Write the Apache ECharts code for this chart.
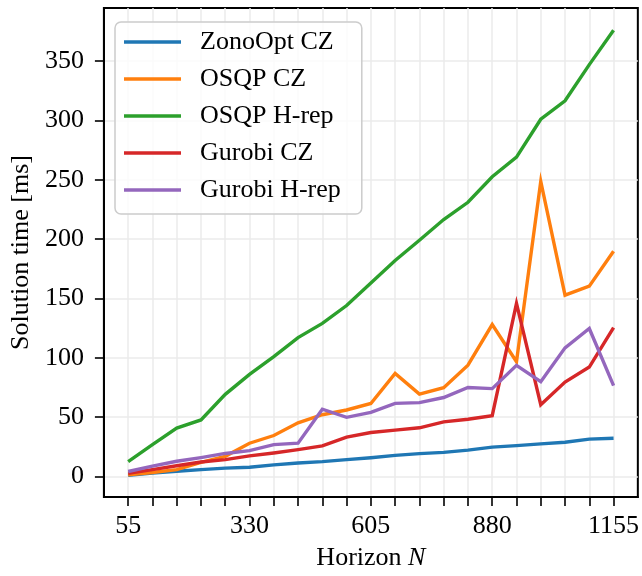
<!DOCTYPE html>
<html>
<head>
<meta charset="utf-8">
<script src="https://cdn.jsdelivr.net/npm/echarts@6/dist/echarts.min.js"></script>
<style>
  html, body { margin: 0; padding: 0; background: #fff; }
  #chart { width: 642px; height: 576px; }
</style>
</head>
<body>
<div id="chart"></div>
<script>
// Horizon lengths N
const horizons = [55, 110, 165, 220, 275, 330, 385, 440, 495, 550, 605, 660, 715, 770, 825, 880, 935, 990, 1045, 1100, 1155];

// Solution times [ms] per solver / representation
const zonoOptCZ  = [1.0, 2.8, 4.4, 5.8, 7.0, 7.8, 9.8, 11.4, 12.5, 14.2, 15.8, 17.8, 19.2, 20.3, 22.2, 24.7, 26.0, 27.5, 28.8, 31.5, 32.2];
const osqpCZ     = [1.4, 3.3, 5.8, 11.8, 17.0, 28.0, 34.5, 45.2, 52.0, 56.0, 61.5, 86.8, 69.4, 74.8, 93.8, 128.0, 96.7, 248.6, 152.8, 160.3, 189.7];
const osqpHrep   = [12.5, 26.8, 40.8, 47.6, 69.2, 86.0, 101.0, 117.0, 129.0, 144.0, 163.0, 182.0, 199.0, 216.5, 231.0, 252.5, 269.0, 301.0, 316.5, 347.0, 376.0];
const gurobiCZ   = [2.7, 5.8, 9.0, 12.2, 14.2, 17.3, 19.8, 22.6, 25.7, 33.1, 37.0, 39.0, 41.0, 46.0, 48.2, 51.2, 145.8, 60.5, 79.6, 92.2, 125.4];
const gurobiHrep = [4.2, 8.7, 12.8, 15.9, 19.4, 21.8, 26.8, 28.1, 56.7, 49.8, 54.0, 61.6, 62.2, 66.5, 75.0, 74.0, 93.6, 79.8, 108.4, 124.7, 76.5];

// Tick positions and labels
const xTickValues  = horizons;
const xTickLabels  = [55, 330, 605, 880, 1155];
const yTickLabels  = [0, 50, 100, 150, 200, 250, 300, 350];

const seriesNames  = ['ZonoOpt CZ', 'OSQP CZ', 'OSQP H-rep', 'Gurobi CZ', 'Gurobi H-rep'];
const seriesValues = [zonoOptCZ, osqpCZ, osqpHrep, gurobiCZ, gurobiHrep];
const palette      = ['#1f77b4', '#ff7f0e', '#2ca02c', '#d62728', '#9467bd'];

const FONT = 'Liberation Serif';
const FS = 26;

const chart = echarts.init(document.getElementById('chart'), null, { renderer: 'canvas' });

const series = seriesNames.map((name, k) => ({
  name: name,
  type: 'line',
  data: horizons.map((n, i) => [n, seriesValues[k][i]]),
  showSymbol: false,
  symbol: 'none',
  lineStyle: { width: 3.4, color: palette[k], cap: 'butt', join: 'miter' },
  itemStyle: { color: palette[k] },
  z: 3 + k
}));

chart.setOption({
  animation: false,
  backgroundColor: '#fff',
  textStyle: { fontFamily: FONT, color: '#000' },
  grid: {
    left: 102, right: 2, top: 8, bottom: 73,
    show: true, borderColor: '#000', borderWidth: 2, backgroundColor: 'transparent',
    containLabel: false
  },
  legend: {
    left: 115, top: 22,
    orient: 'vertical',
    icon: 'rect',
    itemWidth: 57,
    itemHeight: 3.4,
    itemGap: 7,
    padding: [5, 21, 9, 9],
    backgroundColor: 'rgba(255,255,255,0.8)',
    borderColor: '#cccccc',
    borderWidth: 1.5,
    borderRadius: 6,
    textStyle: { fontFamily: FONT, fontSize: FS, color: '#000', lineHeight: 30, padding: [0, 0, 0, 14] },
    data: seriesNames
  },
  xAxis: {
    type: 'value',
    min: 0, max: 1210,
    name: 'Horizon {i|N}',
    nameLocation: 'middle',
    nameGap: 48,
    nameTextStyle: {
      fontFamily: FONT, fontSize: FS, color: '#000',
      rich: { i: { fontFamily: FONT, fontSize: FS, fontStyle: 'italic', color: '#000' } }
    },
    axisLine: { show: true, onZero: false, lineStyle: { color: '#000', width: 2 } },
    axisTick: { show: true, length: 9, lineStyle: { color: '#000', width: 1.6 }, customValues: xTickValues },
    axisLabel: { fontFamily: FONT, fontSize: FS, color: '#000', margin: 16, customValues: xTickLabels, formatter: v => String(v) },
    splitLine: { show: true, lineStyle: { color: '#ebebeb', width: 1.5 } }
  },
  yAxis: {
    type: 'value',
    min: -17.3, max: 394.7,
    name: 'Solution time [ms]',
    nameLocation: 'middle',
    nameRotate: 90,
    nameGap: 69,
    nameTextStyle: { fontFamily: FONT, fontSize: FS, color: '#000' },
    axisLine: { show: true, onZero: false, lineStyle: { color: '#000', width: 2 } },
    axisTick: { show: true, length: 9, lineStyle: { color: '#000', width: 1.6 }, customValues: yTickLabels },
    axisLabel: { fontFamily: FONT, fontSize: FS, color: '#000', margin: 20, customValues: yTickLabels, formatter: v => String(v) },
    splitLine: { show: true, lineStyle: { color: '#ebebeb', width: 1.5 } }
  },
  series: series
});
</script>
</body>
</html>
